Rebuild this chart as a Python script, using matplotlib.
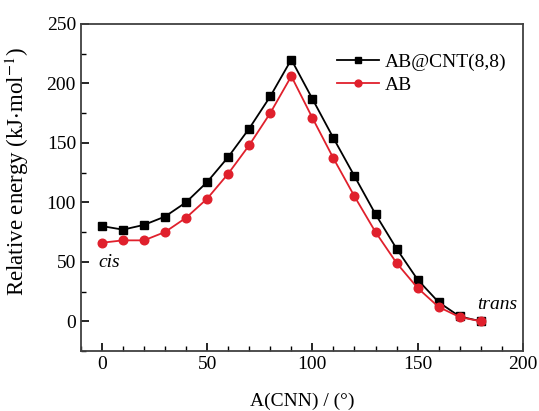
import numpy as np
import matplotlib
matplotlib.use("Agg")
import matplotlib.pyplot as plt
from matplotlib.ticker import MultipleLocator

plt.rcParams['font.family'] = ['Liberation Serif', 'DejaVu Serif']
plt.rcParams['mathtext.fontset'] = 'stix'

# data
angle = [0, 10, 20, 30, 40, 50, 60, 70, 80, 90, 100, 110, 120, 130, 140, 150, 160, 170, 180]
e_cnt = [80, 77, 81, 88, 100, 117, 138, 162, 189, 220, 187, 154, 122, 90, 61, 35, 16, 4, 0]
e_ab = [66, 68, 68, 75, 87, 103, 124, 148, 175, 206, 171, 137, 105, 75, 49, 28, 12, 3.5, 0]

fig = plt.figure(figsize=(5.39, 4.11), dpi=100)
ax = fig.add_axes([0.150, 0.146, 0.820, 0.796])

red = '#e0202c'
ax.plot(angle, e_cnt, color='black', marker='s', markersize=5.6, lw=1.3,
        label='AB@CNT(8,8)')
ax.plot(angle, e_ab, color=red, marker='o', markersize=6.2, lw=1.3,
        label='AB')

ax.set_xlim(-10, 200)
ax.set_ylim(-25, 250)
ax.xaxis.set_major_locator(MultipleLocator(50))
ax.xaxis.set_minor_locator(MultipleLocator(10))
ax.yaxis.set_major_locator(MultipleLocator(50))
ax.yaxis.set_minor_locator(MultipleLocator(25))
ax.tick_params(which='both', direction='in', top=False, right=False, labelsize=14)
ax.tick_params(which='major', length=6, width=1.2)
ax.tick_params(which='minor', length=3.5, width=1.0)
for s in ax.spines.values():
    s.set_color('#404040')
    s.set_linewidth(1.3)

ax.set_xlabel('A(CNN) / (°)', fontsize=14, labelpad=14)
ax.set_ylabel(r'Relative energy (kJ$\cdot$mol$^{-1}$)', fontsize=16.5)
ax.yaxis.set_label_coords(-0.112, 0.55)

ax.text(-1.5, 49, 'cis', style='italic', fontsize=14, ha='left', va='center')
ax.text(197.5, 14, 'trans', style='italic', fontsize=14, ha='right', va='center')

ax.legend(loc='upper right', bbox_to_anchor=(0.99, 0.945), frameon=False,
          fontsize=14, handlelength=2.2, handletextpad=0.3, labelspacing=0.25,
          borderaxespad=0.2, markerscale=0.8)

fig.savefig('out.png', dpi=100)
